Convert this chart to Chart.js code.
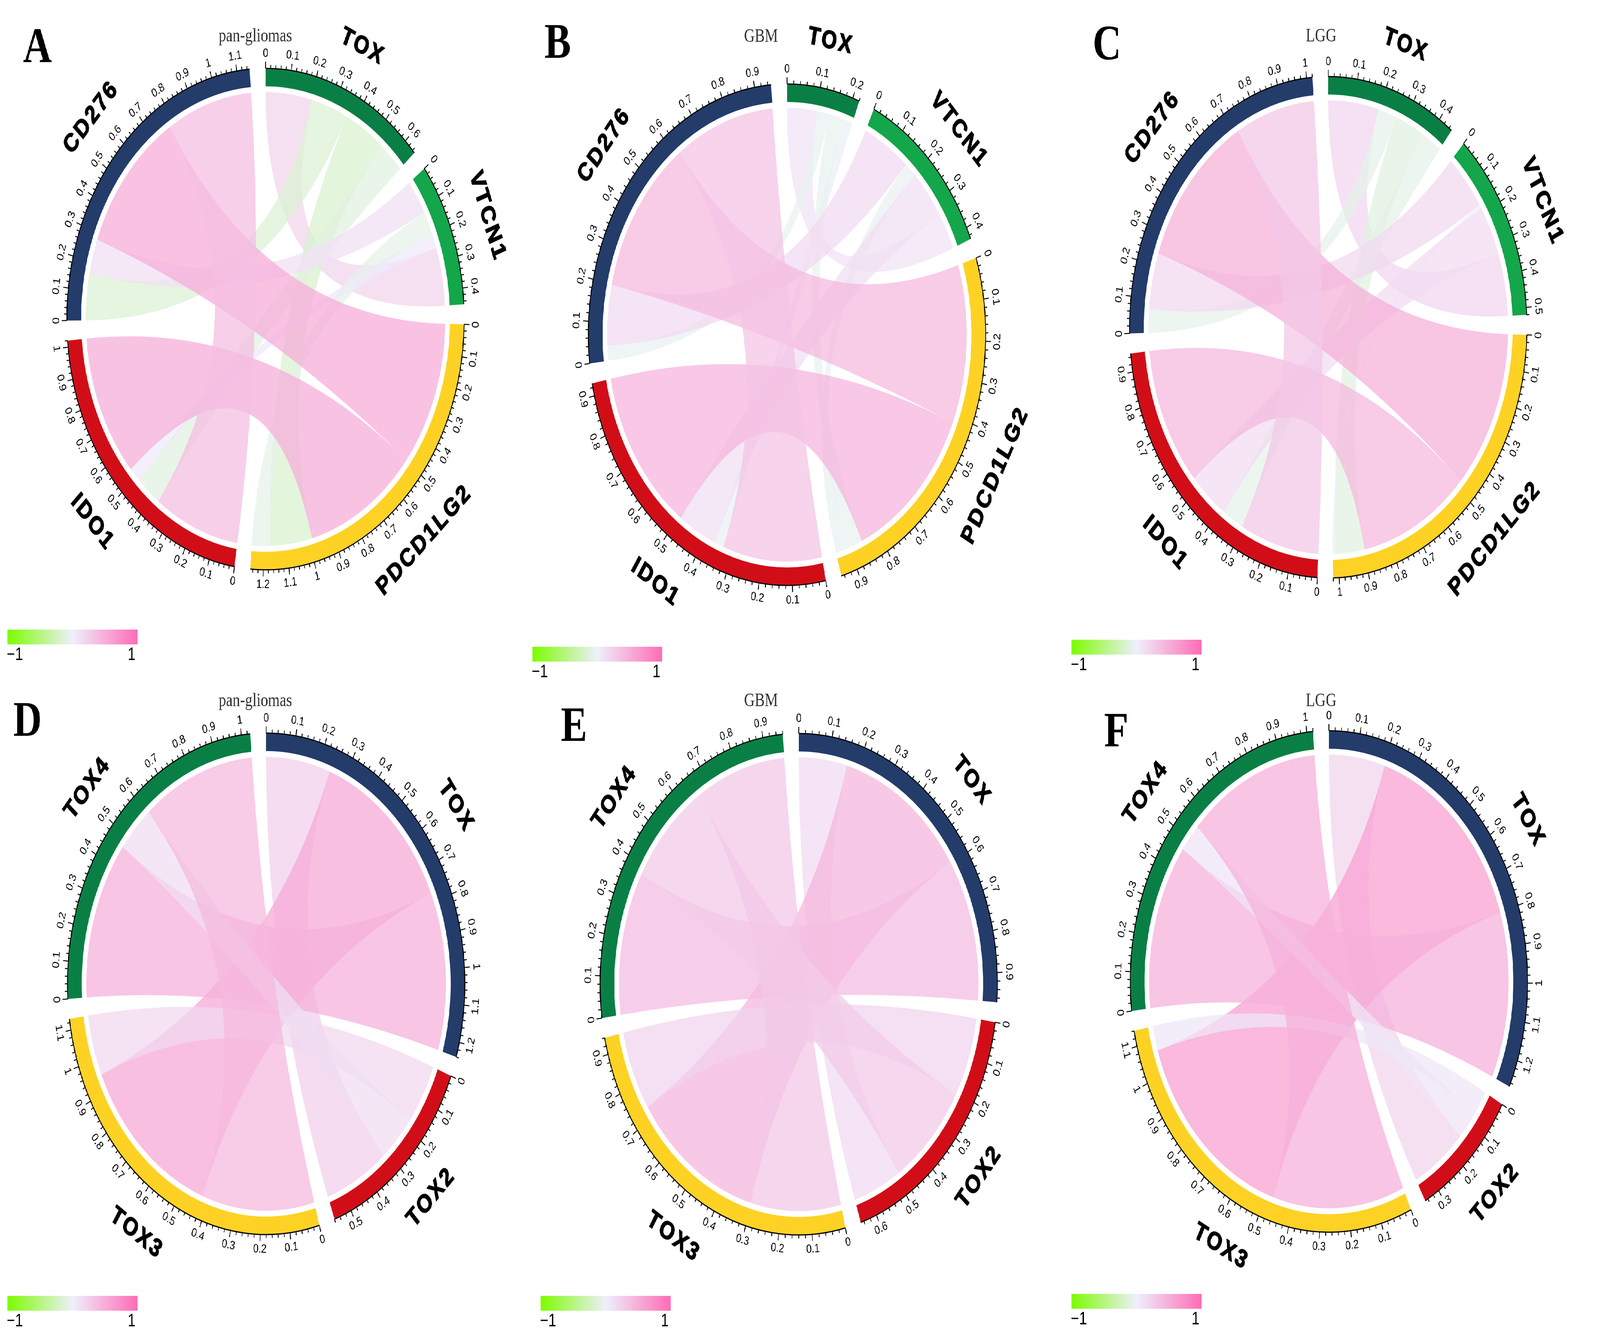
<!DOCTYPE html>
<html>
<head>
<meta charset="utf-8">
<script src="https://cdn.jsdelivr.net/npm/chart.js@4.4.1/dist/chart.umd.min.js"></script>
<style>
    html, body { margin: 0; padding: 0; background: #fff; overflow: hidden; }
    #wrap { position: relative; overflow: hidden; background: #fff; }
    #page { position: absolute; left: 0; top: 0; width: 5170px; height: 3431px; overflow: hidden; transform-origin: 0 0; background: #fff; }
    canvas { position: absolute; }
</style>
</head>
<body>
<div id="wrap"><div id="page"></div></div>
<script>
// immune checkpoint genes, sectors clockwise from 12 o'clock
const checkpointGenes = ['TOX', 'VTCN1', 'PDCD1LG2', 'IDO1', 'CD276'];
const checkpointColors = ['#0a7f45', '#13a64b', '#fdd224', '#d10e18', '#233c6a'];
const checkpointPairs = [
    ['TOX', 'VTCN1'], ['TOX', 'CD276'], ['TOX', 'PDCD1LG2'], ['TOX', 'IDO1'],
    ['VTCN1', 'CD276'], ['VTCN1', 'PDCD1LG2'], ['VTCN1', 'IDO1'],
    ['PDCD1LG2', 'CD276'], ['PDCD1LG2', 'IDO1'], ['IDO1', 'CD276']
];
// order of the links along each sector (clockwise)
const checkpointLinkOrder = {
    TOX: ['VTCN1', 'CD276', 'PDCD1LG2', 'IDO1'],
    VTCN1: ['CD276', 'PDCD1LG2', 'IDO1', 'TOX'],
    PDCD1LG2: ['CD276', 'IDO1', 'TOX', 'VTCN1'],
    IDO1: ['CD276', 'TOX', 'VTCN1', 'PDCD1LG2'],
    CD276: ['TOX', 'VTCN1', 'PDCD1LG2', 'IDO1']
};
const corPanA = [0.20, -0.16, -0.18, -0.11, 0.12, -0.08, 0.05, 0.50, 0.49, 0.37];
const corPanB = [0.10, -0.04, -0.05, -0.03, 0.16, -0.04, 0.13, 0.42, 0.44, 0.33];
const corPanC = [0.19, -0.07, -0.11, -0.08, 0.17, -0.01, 0.15, 0.48, 0.42, 0.30];

// TOX family
const toxGenes = ['TOX', 'TOX2', 'TOX3', 'TOX4'];
const toxColors = ['#233c6a', '#d10e18', '#fdd224', '#0a7f45'];
const toxPairs = [['TOX', 'TOX2'], ['TOX', 'TOX3'], ['TOX', 'TOX4'], ['TOX2', 'TOX3'], ['TOX2', 'TOX4'], ['TOX3', 'TOX4']];
const toxLinkOrder = {
    TOX: ['TOX2', 'TOX3', 'TOX4'],
    TOX2: ['TOX3', 'TOX4', 'TOX'],
    TOX3: ['TOX4', 'TOX', 'TOX2'],
    TOX4: ['TOX', 'TOX2', 'TOX3']
};
const corPanD = [0.24, 0.53, 0.47, 0.18, 0.14, 0.42];
const corPanE = [0.16, 0.43, 0.38, 0.21, 0.28, 0.30];
const corPanF = [0.20, 0.60, 0.47, 0.07, 0.08, 0.47];

const panelLetters = ['A', 'B', 'C', 'D', 'E', 'F'];
const panelTitles = ['pan-gliomas', 'GBM', 'LGG', 'pan-gliomas', 'GBM', 'LGG'];
const legendLabels = ['\u22121', '1'];

// colour ramp -1 .. 0 .. 1
const rampLow = [124, 252, 0];
const rampMid = [238, 240, 252];
const rampHigh = [255, 108, 182];

const PAGE_W = 5170, PAGE_H = 3431;
const GAP_DEG = 4.6;
const R_OUT = 642;
const TRACK = 46;
const CW = 1750, CH = 1780;

// where each panel sits on the page (canvas offset, circle centre, text anchors)
const frames = [
    { left: 0, top: 0, cx: 858, cy: 817, letter: [121, 159], title: [825, 106], bar: [24, 1612] },
    { left: 1700, top: 0, cx: 843, cy: 857, letter: [102, 148], title: [759, 107], bar: [20, 1656] },
    { left: 3420, top: 0, cx: 872, cy: 838, letter: [157, 152], title: [849, 106], bar: [42, 1638] },
    { left: 0, top: 1711, cx: 860, cy: 808, letter: [89, 173], title: [825, 97], bar: [24, 1607] },
    { left: 1700, top: 1711, cx: 881, cy: 809, letter: [155, 186], title: [759, 97], bar: [47, 1607] },
    { left: 3420, top: 1711, cx: 874, cy: 802, letter: [187, 200], title: [849, 97], bar: [42, 1602] }
];

// the window may be narrower than asked for: stretch the figure over the whole window
const page = document.getElementById('page');
const wrap = document.getElementById('wrap');
const fitX = (window.innerWidth || PAGE_W) / PAGE_W;
const fitY = (window.innerHeight || PAGE_H) / PAGE_H;
page.style.transform = 'scale(' + fitX + ',' + fitY + ')';
wrap.style.width = (PAGE_W * fitX) + 'px';
wrap.style.height = (PAGE_H * fitY) + 'px';
const pixelRatio = Math.max(fitX, fitY) * (window.devicePixelRatio || 1);

function corColor(r) {
    const t = Math.min(1, Math.abs(r));
    const end = r < 0 ? rampLow : rampHigh;
    const c = rampMid.map((m, i) => Math.round(m + (end[i] - m) * t));
    return 'rgba(' + c[0] + ',' + c[1] + ',' + c[2] + ',0.75)';
}

// text along the circle, kept readable (never upside down)
function circleText(ctx, text, x, y, r, phi, heavy) {
    let theta = phi + Math.PI / 2;
    theta = ((theta % (2 * Math.PI)) + 2 * Math.PI) % (2 * Math.PI);
    let rot = theta;
    if (theta > Math.PI / 2 && theta < 3 * Math.PI / 2) rot = theta - Math.PI;
    ctx.save();
    ctx.translate(x + r * Math.cos(phi), y + r * Math.sin(phi));
    ctx.rotate(rot);
    if (heavy) ctx.strokeText(text, 0, 0);
    ctx.fillText(text, 0, 0);
    ctx.restore();
}

function chordPlugin(panel, frame) {
    const corOf = (g, h) => {
        const k = panel.pairs.findIndex(p => (p[0] === g && p[1] === h) || (p[0] === h && p[1] === g));
        return panel.cors[k];
    };
    const sectorsOf = chart => {
        const arcs = chart.getDatasetMeta(0).data;
        return panel.genes.map((g, i) => {
            const a = arcs[2 * i];
            return { gene: g, start: a.startAngle, end: a.endAngle, x: a.x, y: a.y,
                rin: a.innerRadius, rout: a.outerRadius, total: panel.totals[i] };
        });
    };
    return {
        id: 'chord' + panel.letter,
        beforeDatasetsDraw(chart) {
            const ctx = chart.ctx;
            const sectors = sectorsOf(chart);
            const ends = {};
            sectors.forEach(s => {
                const k = (s.end - s.start) / s.total;
                let pos = 0;
                panel.order[s.gene].forEach(h => {
                    const w = Math.abs(corOf(s.gene, h));
                    ends[s.gene + '|' + h] = [s.start + pos * k, s.start + (pos + w) * k];
                    pos += w;
                });
            });
            const cx = sectors[0].x, cy = sectors[0].y;
            const rc = sectors[0].rin - 15;
            ctx.save();
            panel.pairs.forEach((p, i) => {
                const a = ends[p[0] + '|' + p[1]];
                const b = ends[p[1] + '|' + p[0]];
                ctx.beginPath();
                ctx.arc(cx, cy, rc, a[0], a[1]);
                ctx.quadraticCurveTo(cx, cy, cx + rc * Math.cos(b[0]), cy + rc * Math.sin(b[0]));
                ctx.arc(cx, cy, rc, b[0], b[1]);
                ctx.quadraticCurveTo(cx, cy, cx + rc * Math.cos(a[0]), cy + rc * Math.sin(a[0]));
                ctx.closePath();
                ctx.fillStyle = corColor(panel.cors[i]);
                ctx.fill();
            });
            ctx.restore();
        },
        afterDatasetsDraw(chart) {
            const ctx = chart.ctx;
            const sectors = sectorsOf(chart);
            ctx.save();
            ctx.strokeStyle = '#000';
            ctx.fillStyle = '#000';
            sectors.forEach(s => {
                const k = (s.end - s.start) / s.total;
                // axis line
                ctx.lineWidth = 3;
                ctx.beginPath();
                ctx.arc(s.x, s.y, s.rout, s.start, s.end);
                ctx.stroke();
                // ticks every 0.02, labels every 0.1
                ctx.lineWidth = 2.5;
                ctx.font = '31px "Liberation Sans", Arial, sans-serif';
                ctx.textAlign = 'center';
                ctx.textBaseline = 'middle';
                const n = Math.floor(s.total / 0.02 + 1e-6);
                for (let t = 0; t <= n; t++) {
                    const phi = s.start + t * 0.02 * k;
                    const len = t % 5 === 0 ? 17 : 9;
                    ctx.beginPath();
                    ctx.moveTo(s.x + s.rout * Math.cos(phi), s.y + s.rout * Math.sin(phi));
                    ctx.lineTo(s.x + (s.rout + len) * Math.cos(phi), s.y + (s.rout + len) * Math.sin(phi));
                    ctx.stroke();
                    if (t % 5 === 0) {
                        const label = String(+(t * 0.02).toFixed(1));
                        circleText(ctx, label, s.x, s.y, s.rout + 38, phi, false);
                    }
                }
                // sector name
                ctx.font = 'bold 64px "Liberation Sans", Arial, sans-serif';
                ctx.letterSpacing = '6px';
                ctx.lineWidth = 2.5;
                ctx.lineJoin = 'round';
                circleText(ctx, s.gene, s.x, s.y, s.rout + 122, (s.start + s.end) / 2, true);
                ctx.letterSpacing = '0px';
            });

            // panel letter and title
            ctx.textAlign = 'center';
            ctx.textBaseline = 'alphabetic';
            ctx.font = 'bold 128px "Liberation Serif", "Times New Roman", serif';
            ctx.fillText(panel.letter, frame.letter[0], frame.letter[1]);
            ctx.fillStyle = '#333';
            ctx.font = '48px "Liberation Serif", "Times New Roman", serif';
            ctx.fillText(panel.title, frame.title[0], frame.title[1]);

            // colour key
            const bx = frame.bar[0], by = frame.bar[1], bw = 420, bh = 38;
            const grad = ctx.createLinearGradient(bx, 0, bx + bw, 0);
            grad.addColorStop(0, 'rgb(' + rampLow.join(',') + ')');
            grad.addColorStop(0.5, 'rgb(' + rampMid.join(',') + ')');
            grad.addColorStop(1, 'rgb(' + rampHigh.join(',') + ')');
            ctx.fillStyle = grad;
            ctx.fillRect(bx, by, bw, bh);
            ctx.fillStyle = '#000';
            ctx.font = '46px "Liberation Sans", Arial, sans-serif';
            ctx.textAlign = 'left';
            ctx.fillText(legendLabels[0], bx - 2, by + bh + 40);
            ctx.textAlign = 'right';
            ctx.fillText(legendLabels[1], bx + bw - 6, by + bh + 40);
            ctx.restore();
        }
    };
}

function makePanel(i, genes, colors, pairs, cors, order) {
    const frame = frames[i];
    const totals = genes.map(g => pairs.reduce((s, p, k) => s + (p.includes(g) ? Math.abs(cors[k]) : 0), 0));
    const sum = totals.reduce((a, b) => a + b, 0);
    const gap = GAP_DEG * sum / (360 - genes.length * GAP_DEG);
    const data = [], bg = [], labels = [];
    genes.forEach((g, k) => {
        data.push(totals[k], gap);
        bg.push(colors[k], 'rgba(0,0,0,0)');
        labels.push(g, '');
    });
    const panel = { letter: panelLetters[i], title: panelTitles[i], genes, pairs, cors, order, totals };

    const cv = document.createElement('canvas');
    cv.style.left = frame.left + 'px';
    cv.style.top = frame.top + 'px';
    cv.style.width = CW + 'px';
    cv.style.height = CH + 'px';
    cv.width = CW;
    cv.height = CH;
    page.appendChild(cv);

    new Chart(cv, {
        type: 'doughnut',
        data: { labels, datasets: [{ data, backgroundColor: bg, borderWidth: 0, hoverOffset: 0 }] },
        options: {
            responsive: false,
            animation: false,
            devicePixelRatio: pixelRatio,
            events: [],
            rotation: 0,
            radius: R_OUT,
            cutout: ((1 - TRACK / R_OUT) * 100) + '%',
            layout: { padding: { left: frame.cx - R_OUT, top: frame.cy - R_OUT,
                right: CW - frame.cx - R_OUT, bottom: CH - frame.cy - R_OUT } },
            plugins: { legend: { display: false }, tooltip: { enabled: false } }
        },
        plugins: [chordPlugin(panel, frame)]
    });
}

makePanel(0, checkpointGenes, checkpointColors, checkpointPairs, corPanA, checkpointLinkOrder);
makePanel(1, checkpointGenes, checkpointColors, checkpointPairs, corPanB, checkpointLinkOrder);
makePanel(2, checkpointGenes, checkpointColors, checkpointPairs, corPanC, checkpointLinkOrder);
makePanel(3, toxGenes, toxColors, toxPairs, corPanD, toxLinkOrder);
makePanel(4, toxGenes, toxColors, toxPairs, corPanE, toxLinkOrder);
makePanel(5, toxGenes, toxColors, toxPairs, corPanF, toxLinkOrder);
</script>
</body>
</html>
